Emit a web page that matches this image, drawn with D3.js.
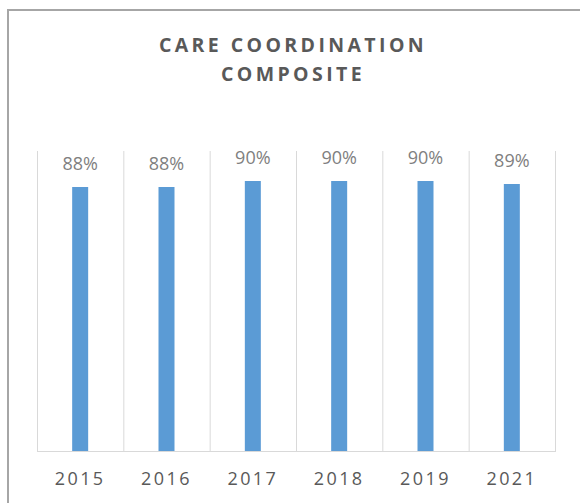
<!DOCTYPE html>
<html>
<head>
<meta charset="utf-8">
<script src="https://cdnjs.cloudflare.com/ajax/libs/d3/7.8.5/d3.min.js"></script>
<style>
  body { margin: 0; background: #fff; }
  svg { display: block; font-family: "Open Sans", sans-serif; }
</style>
</head>
<body>
<div id="chart"></div>
<script>
// values
const years = ["2015", "2016", "2017", "2018", "2019", "2021"];
const scores = [88, 88, 90, 90, 90, 89];
const titleLines = ["CARE COORDINATION", "COMPOSITE"];

const width = 580;
const height = 503;
const margin = {top: 151, bottom: 52, left: 37, right: 25};

const svg = d3.select("#chart")
    .append("svg")
    .attr("width", width)
    .attr("height", height);

// chart frame, runs off the right and bottom edges
svg.append("rect")
    .attr("x", 8)
    .attr("y", 10)
    .attr("width", width + 20)
    .attr("height", height + 20)
    .attr("fill", "none")
    .attr("stroke", "#a6a6a6")
    .attr("stroke-width", 2);

svg.append("text")
    .attr("x", 293)
    .attr("y", 52)
    .attr("text-anchor", "middle")
    .attr("fill", "#595959")
    .attr("font-size", "19.5px")
    .attr("font-weight", "bold")
    .attr("letter-spacing", "3.4px")
    .selectAll("tspan")
    .data(titleLines)
    .join("tspan")
      .attr("x", 293)
      .attr("dy", (d, i) => i === 0 ? 0 : 28.5)
      .text(d => d);

const x = d3.scaleBand()
    .domain(years)
    .range([margin.left, width - margin.right])
    .padding(0);

const y = d3.scaleLinear()
    .domain([0, 100])
    .range([height - margin.bottom, margin.top]);

// category separators
svg.append("g")
    .attr("stroke", "#d9d9d9")
    .attr("stroke-width", 1)
    .selectAll("line")
    .data(years.concat(["end"]))
    .join("line")
      .attr("x1", (d, i) => i < years.length ? x(d) + 0.5 : x.range()[1] + 0.5)
      .attr("x2", (d, i) => i < years.length ? x(d) + 0.5 : x.range()[1] + 0.5)
      .attr("y1", y(100))
      .attr("y2", y(0));

const barWidth = 16;

svg.append("g")
    .attr("fill", "#5b9bd5")
    .selectAll("rect")
    .data(scores)
    .join("rect")
      .attr("x", (d, i) => x(years[i]) + x.bandwidth() / 2 - barWidth / 2)
      .attr("y", d => y(d))
      .attr("height", d => y(0) - y(d))
      .attr("width", barWidth);

svg.append("g")
    .attr("fill", "#7f7f7f")
    .attr("font-size", "18px")
    .attr("text-anchor", "middle")
    .selectAll("text")
    .data(scores)
    .join("text")
      .attr("x", (d, i) => x(years[i]) + x.bandwidth() / 2)
      .attr("y", d => y(d) - 17.5)
      .text(d => `${d}%`);

function xAxis(g) {
    g.attr("transform", `translate(0, ${height - margin.bottom})`)
     .call(d3.axisBottom(x).tickSize(0).tickPadding(21));
    g.select(".domain").attr("stroke", "#d9d9d9").attr("d", `M${margin.left},0.5H${width - margin.right + 1}`);
    g.selectAll("text")
     .attr("fill", "#595959")
     .attr("font-size", "18px")
     .attr("letter-spacing", "2.4px")
     .attr("font-family", "Open Sans, sans-serif");
}

svg.append("g").call(xAxis);
</script>
</body>
</html>
